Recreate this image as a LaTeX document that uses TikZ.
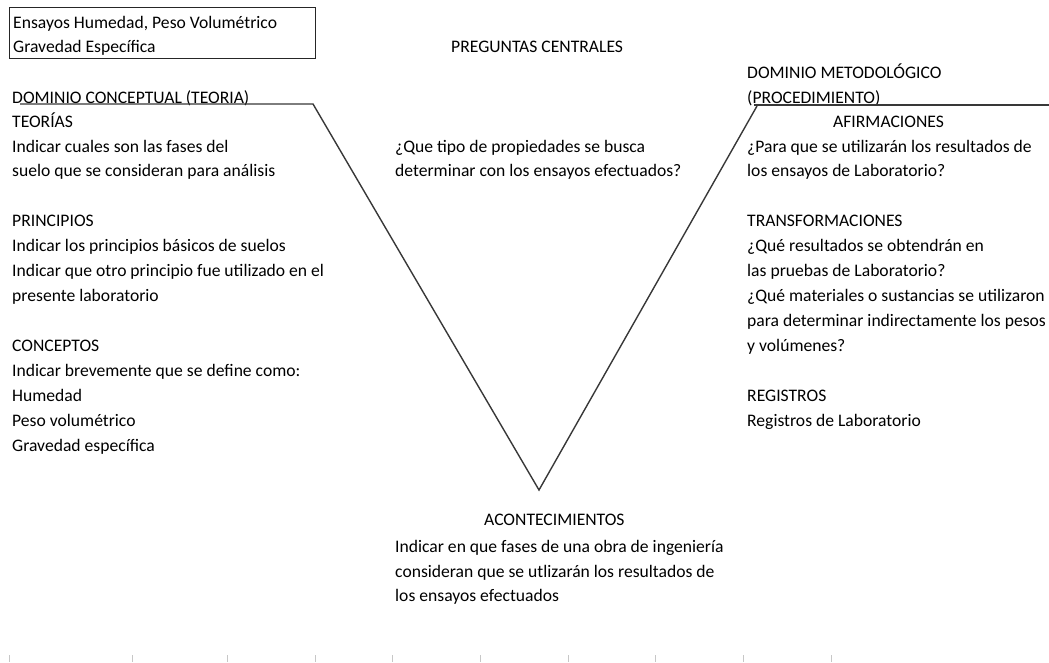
\documentclass[tikz,border=0pt]{standalone}
\usepackage{fontspec}
\setmainfont{Carlito}
\begin{document}
\begin{tikzpicture}[x=1pt,y=-1pt,
  txt/.style={anchor=base west,inner sep=0pt,font=\fontsize{17.6}{25}\selectfont},
  vline/.style={draw=black!78,line width=1.4pt},
  tick/.style={draw=black!22,line width=0.8pt}]
\useasboundingbox (0,0) rectangle (1049,662);
% title box
\draw[line width=1pt,black!85] (9,7) rectangle (315,58);
\node[txt] (b1) at (13,28) {Ensayos Humedad, Peso Volumétrico};
\node[txt] (b2) at (13,52) {Gravedad Específica};
\node[txt] (pc) at (451,52) {PREGUNTAS CENTRALES};
\node[txt] (dm1) at (747,78) {DOMINIO METODOLÓGICO};
\node[txt] (dc) at (12,103) {DOMINIO CONCEPTUAL (TEORIA)};
\node[txt] (dm2) at (747,103) {(PROCEDIMIENTO)};
% V lines
\coordinate (L0) at (20,104);
\coordinate (L1) at (313,104);
\coordinate (V) at (539,490);
\coordinate (R1) at (757,106);
\coordinate (R0) at (754,105);
\coordinate (R2) at (1049,105);
\draw[vline] (L0) -- (L1) -- (V) -- (R1);
\draw[vline] (R0) -- (R2);
% left column
\node[txt] (l1) at (12,127) {TEORÍAS};
\node[txt] (l2) at (12,152) {Indicar cuales son las fases del};
\node[txt] (l3) at (12,176) {suelo que se consideran para análisis};
\node[txt] (l4) at (12,226) {PRINCIPIOS};
\node[txt] (l5) at (12,251) {Indicar los principios básicos de suelos};
\node[txt] (l6) at (12,276) {Indicar que otro principio fue utilizado en el};
\node[txt] (l7) at (12,301) {presente laboratorio};
\node[txt] (l8) at (12,351) {CONCEPTOS};
\node[txt] (l9) at (12,376) {Indicar brevemente que se define como:};
\node[txt] (l10) at (12,401) {Humedad};
\node[txt] (l11) at (12,426) {Peso volumétrico};
\node[txt] (l12) at (12,451) {Gravedad específica};
% center
\node[txt] (c1) at (395,152) {¿Que tipo de propiedades se busca};
\node[txt] (c2) at (395,176) {determinar con los ensayos efectuados?};
\node[txt] (a0) at (484,525) {ACONTECIMIENTOS};
\node[txt] (a1) at (395,552) {Indicar en que fases de una obra de ingeniería};
\node[txt] (a2) at (395,577) {consideran que se utlizarán los resultados de};
\node[txt] (a3) at (395,601) {los ensayos efectuados};
% right column
\node[txt] (r1) at (833,127) {AFIRMACIONES};
\node[txt] (r2) at (747,152) {¿Para que se utilizarán los resultados de};
\node[txt] (r3) at (747,176) {los ensayos de Laboratorio?};
\node[txt] (r4) at (747,226) {TRANSFORMACIONES};
\node[txt] (r5) at (747,251) {¿Qué resultados se obtendrán en};
\node[txt] (r6) at (747,276) {las pruebas de Laboratorio?};
\node[txt] (r7) at (747,301) {¿Qué materiales o sustancias se utilizaron};
\node[txt] (r8) at (747,326) {para determinar indirectamente los pesos};
\node[txt] (r9) at (747,351) {y volúmenes?};
\node[txt] (r10) at (747,401) {REGISTROS};
\node[txt] (r11) at (747,426) {Registros de Laboratorio};
% bottom ticks
\foreach \x in {9,132,227,315,392,480,568,655,743,831}
  \draw[tick] (\x,655) -- (\x,662);
\end{tikzpicture}
\end{document}
